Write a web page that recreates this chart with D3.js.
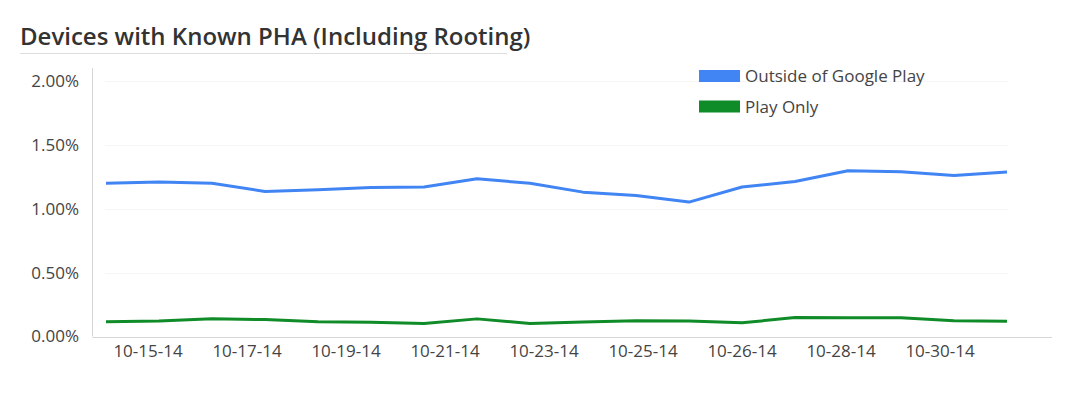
<!DOCTYPE html>
<html>
<head>
<meta charset="utf-8">
<script src="https://cdn.jsdelivr.net/npm/d3@7"></script>
<style>
  body { margin: 0; background: #fff; }
  text { font-family: "Open Sans", sans-serif; }
</style>
</head>
<body>
<svg id="chart"></svg>
<script>
// Data (values in percent)
const dates = [
  "10-14-14", "10-15-14", "10-16-14", "10-17-14", "10-18-14", "10-19-14",
  "10-20-14", "10-21-14", "10-22-14", "10-23-14", "10-24-14", "10-25-14",
  "10-26-14", "10-27-14", "10-28-14", "10-29-14", "10-30-14", "10-31-14"
];
const outsidePlay = [
  1.20, 1.21, 1.20, 1.135, 1.148, 1.166, 1.17, 1.234, 1.20,
  1.13, 1.104, 1.052, 1.17, 1.213, 1.297, 1.289, 1.26, 1.287
];
const playOnly = [
  0.115, 0.121, 0.138, 0.133, 0.115, 0.112, 0.102, 0.138, 0.102,
  0.113, 0.123, 0.121, 0.107, 0.148, 0.147, 0.146, 0.123, 0.120
];
const tickLabels = [
  "10-15-14", "10-17-14", "10-19-14", "10-21-14", "10-23-14",
  "10-25-14", "10-26-14", "10-28-14", "10-30-14"
];
const yTicks = [0, 0.5, 1, 1.5, 2];
const seriesNames = ["Outside of Google Play", "Play Only"];
const seriesColors = ["#4184f3", "#0f8b28"];

const width = 1084, height = 396;
const margin = { top: 81, right: 32, bottom: 59, left: 93 };

const svg = d3.select("#chart").attr("width", width).attr("height", height);

// Title
svg.append("text")
  .attr("x", 20)
  .attr("y", 45)
  .style("font-size", "24px")
  .style("font-weight", 600)
  .style("fill", "#333")
  .text("Devices with Known PHA (Including Rooting)");
svg.append("line")
  .attr("x1", 20).attr("x2", 507)
  .attr("y1", 53.5).attr("y2", 53.5)
  .style("stroke", "#ddd");

// Scales
const x = d3.scalePoint().domain(dates).range([106, 1007]);
const xLabels = d3.scalePoint().domain(tickLabels).range([147.5, 939.5]);
const y = d3.scaleLinear().domain([0, 2]).range([height - margin.bottom - 0.5, margin.top]);

// Gridlines
svg.append("g")
  .selectAll("line")
  .data(yTicks.slice(1))
  .enter()
  .append("line")
  .attr("x1", 105).attr("x2", 1008)
  .attr("y1", (d) => Math.round(y(d)) + 0.5)
  .attr("y2", (d) => Math.round(y(d)) + 0.5)
  .style("stroke", "#f6f6f6");

// Axis lines
svg.append("line")
  .attr("x1", margin.left - 0.5).attr("x2", margin.left - 0.5)
  .attr("y1", 68).attr("y2", y(0))
  .style("stroke", "#d6d6d6");
svg.append("line")
  .attr("x1", margin.left - 0.5).attr("x2", width - margin.right)
  .attr("y1", Math.round(y(0)) + 0.5).attr("y2", Math.round(y(0)) + 0.5)
  .style("stroke", "#d6d6d6");

// Y axis
const yAxis = svg.append("g")
  .attr("transform", `translate(${margin.left},0)`)
  .call(d3.axisLeft(y).tickValues(yTicks).tickFormat((d) => d.toFixed(2) + "%").tickSize(0).tickPadding(14));
yAxis.select(".domain").remove();
yAxis.selectAll("text")
  .style("font-family", "'Open Sans', sans-serif")
  .style("font-size", "17px")
  .style("fill", "#444");

// X axis
const xAxis = svg.append("g")
  .attr("transform", `translate(0,${Math.round(y(0))})`)
  .call(d3.axisBottom(xLabels).tickSize(0).tickPadding(8));
xAxis.select(".domain").remove();
xAxis.selectAll("text")
  .style("font-family", "'Open Sans', sans-serif")
  .style("font-size", "17px")
  .style("fill", "#444");

// Lines
const line = d3.line()
  .x((d, i) => x(dates[i]))
  .y((d) => y(d));

[outsidePlay, playOnly].forEach((values, k) => {
  svg.append("path")
    .datum(values)
    .attr("d", line)
    .style("fill", "none")
    .style("stroke", seriesColors[k])
    .style("stroke-width", 3)
    .style("stroke-linejoin", "round");
});

// Legend
const legend = svg.append("g")
  .selectAll("g")
  .data(seriesNames)
  .enter()
  .append("g")
  .attr("transform", (d, i) => `translate(699,${70 + i * 30.5})`);
legend.append("rect")
  .attr("width", 41)
  .attr("height", 12)
  .style("fill", (d, i) => seriesColors[i]);
legend.append("text")
  .attr("x", 46)
  .attr("y", 6.5)
  .attr("dy", "0.35em")
  .style("font-size", "17px")
  .style("fill", "#444")
  .text((d) => d);
</script>
</body>
</html>
